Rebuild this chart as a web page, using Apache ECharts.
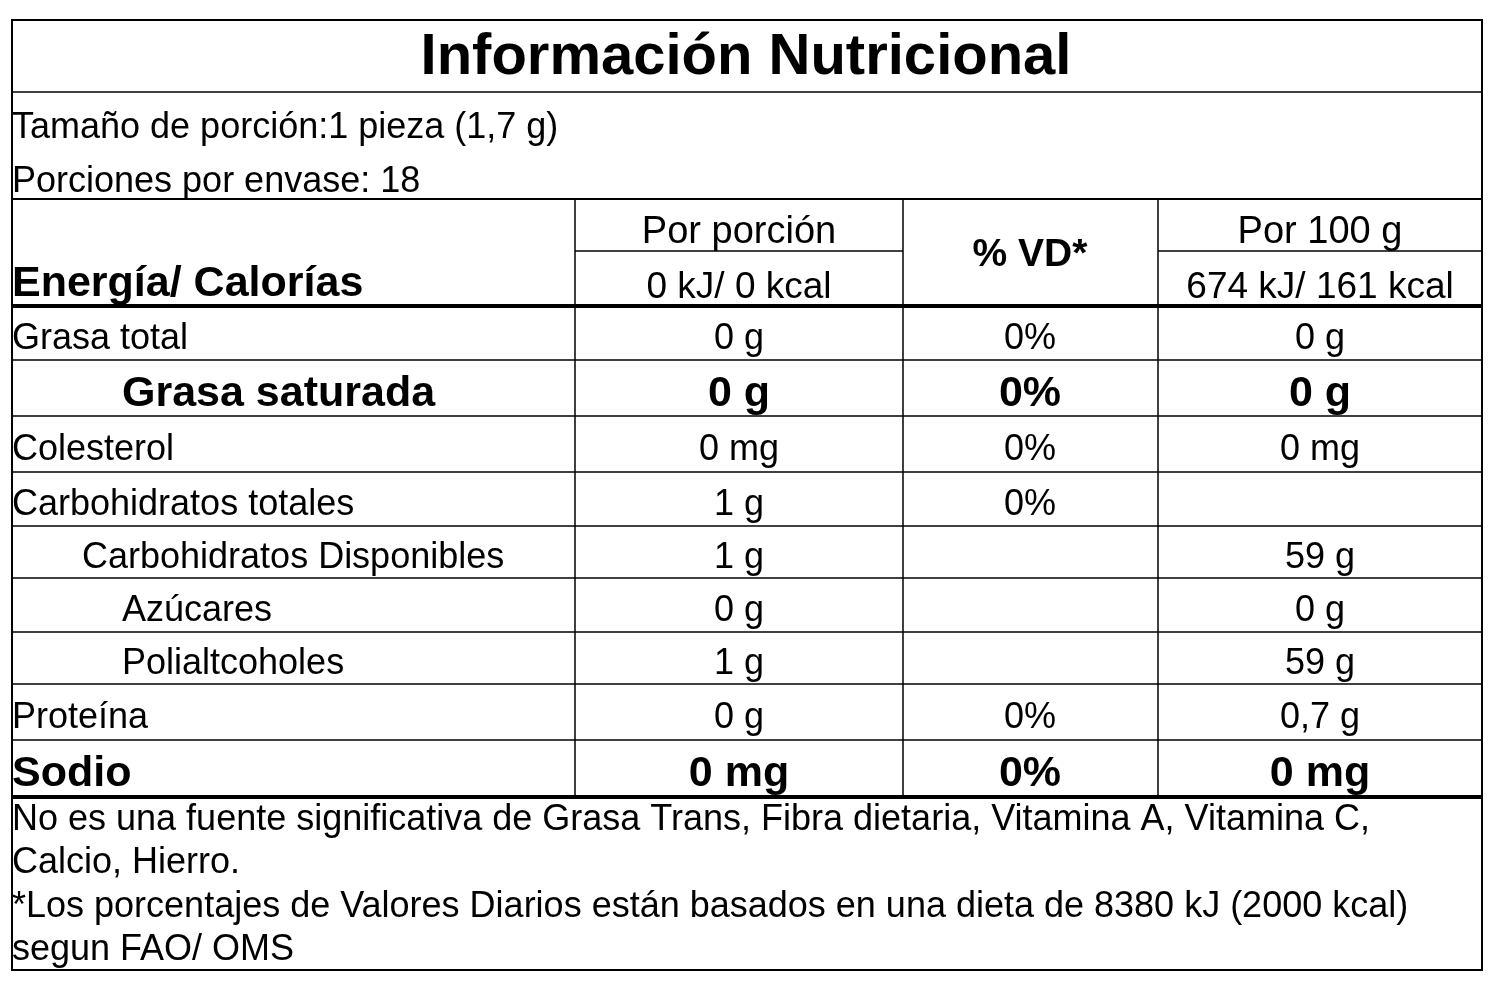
<!DOCTYPE html>
<html><head><meta charset="utf-8">
<script src="https://cdn.jsdelivr.net/npm/echarts@6/dist/echarts.min.js"></script>
<style>html,body{margin:0;background:#fff}#c{width:1500px;height:1000px}</style>
</head><body><div id="c"></div>
<script>
const title = "Información Nutricional";
const servingLines = ["Tamaño de porción:1 pieza (1,7 g)", "Porciones por envase: 18"];
const headers = ["Por porción", "% VD*", "Por 100 g"];
const energyLabel = "Energía/ Calorías";
const energyValues = ["0 kJ/ 0 kcal", "674 kJ/ 161 kcal"];
const rowLabels = ["Grasa total","Grasa saturada","Colesterol","Carbohidratos totales","Carbohidratos Disponibles","Azúcares","Polialtcoholes","Proteína","Sodio"];
const rowIndent = [0,110,0,0,70,110,110,0,0];
const rowBold = [false,true,false,false,false,false,false,false,true];
const perPortion = ["0 g","0 g","0 mg","1 g","1 g","0 g","1 g","0 g","0 mg"];
const pctVD = ["0%","0%","0%","0%","","","","0%","0%"];
const per100 = ["0 g","0 g","0 mg","","59 g","0 g","59 g","0,7 g","0 mg"];
const footer = ["No es una fuente significativa de Grasa Trans, Fibra dietaria, Vitamina A, Vitamina C,","Calcio, Hierro.","*Los porcentajes de Valores Diarios están basados en una dieta de 8380 kJ (2000 kcal)","segun FAO/ OMS"];

const F = '"Liberation Sans", Arial, sans-serif';
const L = 12, R = 1482, T = 20, B = 970;
const cols = [575, 903, 1158];
const colC = [739, 1030, 1320];
const rowB = [306, 360, 416, 472, 526, 578, 632, 684, 740, 797];
const g = [];
function line(x1,y1,x2,y2,w){g.push({type:'line',shape:{x1,y1,x2,y2},style:{stroke:'#000',lineWidth:w}});}
function text(s,x,y,size,bold,align){g.push({type:'text',x,y,style:{text:s,font:(bold?'bold ':'')+size+'px '+F,fill:'#000',textAlign:align||'left',textVerticalAlign:'middle'}});}
g.push({type:'rect',shape:{x:L,y:T,width:R-L,height:B-T},style:{fill:'none',stroke:'#000',lineWidth:2}});
text(title,746,58,58,true,'center');
line(L,92,R,92,1.5);
text(servingLines[0],L,128,36);
text(servingLines[1],L,182,36);
line(L,199,R,199,2);
cols.forEach(x=>line(x,199,x,797,1.5));
line(cols[0],251,cols[1],251,1.5);
line(cols[2],251,R,251,1.5);
text(headers[0],colC[0],233,38,false,'center');
text(headers[1],colC[1],255,39,true,'center');
text(headers[2],colC[2],233,38,false,'center');
text(energyLabel,L,284,43,true);
text(energyValues[0],colC[0],288,37,false,'center');
text(energyValues[1],colC[2],288,37,false,'center');
rowB.forEach((y,i)=>line(L,y,R,y,(i===0||i===rowB.length-1)?4:1.5));
rowLabels.forEach((lab,i)=>{
  const y=(rowB[i]+rowB[i+1])/2+6;
  const s=rowBold[i]?43:36;
  text(lab,L+rowIndent[i],y,s,rowBold[i]);
  text(perPortion[i],colC[0],y,s,rowBold[i],'center');
  text(pctVD[i],colC[1],y,s,rowBold[i],'center');
  text(per100[i],colC[2],y,s,rowBold[i],'center');
});
const fy=[820,863,907,950];
footer.forEach((s,i)=>text(s,L,fy[i],36));
const chart = echarts.init(document.getElementById('c'));
chart.setOption({animation:false,graphic:g});
</script></body></html>
